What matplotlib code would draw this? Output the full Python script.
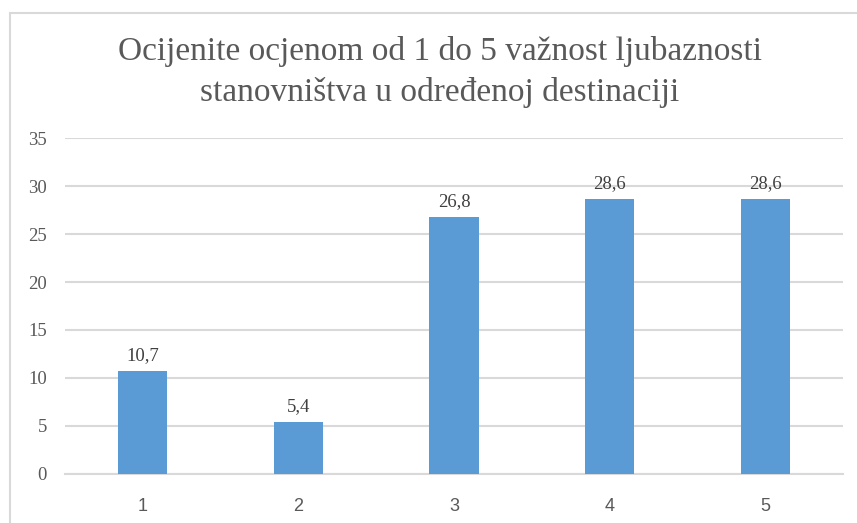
import matplotlib
matplotlib.use("Agg")
import matplotlib.pyplot as plt
from matplotlib.patches import Rectangle

categories = ["1", "2", "3", "4", "5"]
values = [10.7, 5.4, 26.8, 28.6, 28.6]
value_labels = ["10,7", "5,4", "26,8", "28,6", "28,6"]
yticks = [0, 5, 10, 15, 20, 25, 30, 35]
title = "Ocijenite ocjenom od 1 do 5 važnost ljubaznosti\nstanovništva u određenoj destinaciji"

W, H = 857, 523
fig = plt.figure(figsize=(W / 100, H / 100), dpi=100)
fig.patch.set_facecolor("white")

# outer chart border (partially cut off at right/bottom)
fig.patches.append(Rectangle((10 / W, -0.05), 1.2, (H - 13) / H + 0.05,
                             transform=fig.transFigure, fill=False,
                             edgecolor="#d9d9d9", linewidth=1.5))

ax = fig.add_axes([65 / W, (H - 474) / H, (843 - 65) / W, (474 - 138) / H])
x = list(range(len(categories)))
ax.bar(x, values, width=0.315, color="#5b9bd5", zorder=3)
ax.set_xlim(-0.5, len(categories) - 0.5)
ax.set_ylim(0, 35)
ax.set_yticks(yticks)
ax.set_yticklabels([str(t) for t in yticks], fontfamily="Liberation Serif",
                   fontsize=13.5, color="#595959")
ax.set_xticks(x)
ax.set_xticklabels(categories, fontfamily="Liberation Sans", fontsize=13,
                   color="#595959")
ax.tick_params(axis="both", length=0)
ax.tick_params(axis="y", pad=13)
ax.tick_params(axis="x", pad=17)
ax.grid(axis="y", color="#d9d9d9", linewidth=1.5, zorder=0)
for s in ["top", "right", "left"]:
    ax.spines[s].set_visible(False)
ax.spines["bottom"].set_color("#d9d9d9")
ax.spines["bottom"].set_linewidth(1.5)

for xi, v, lab in zip(x, values, value_labels):
    ax.annotate(lab, (xi, v), xytext=(0, 5), textcoords="offset points",
                ha="center", va="bottom", fontfamily="Liberation Serif",
                fontsize=13.5, color="#404040")

fig.text(440 / W, 1 - 72 / H, title, ha="center", va="center",
         fontfamily="Liberation Serif", fontsize=24, color="#595959",
         linespacing=1.4)

fig.savefig("out.png", dpi=100)
